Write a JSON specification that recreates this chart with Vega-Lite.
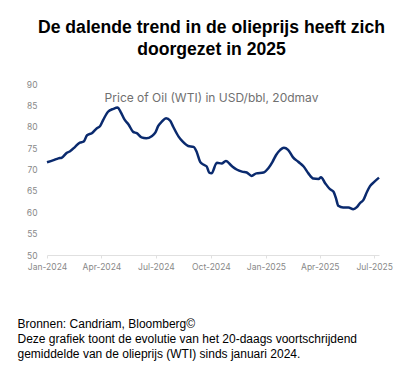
{
  "$schema": "https://vega.github.io/schema/vega-lite/v6.json",
  "width": 332,
  "height": 171,
  "autosize": {"type": "none"},
  "padding": {"left": 47, "top": 84, "right": 35, "bottom": 124},
  "background": "white",
  "config": {"view": {"stroke": null}},
  "title": {
    "text": ["De dalende trend in de olieprijs heeft zich", "doorgezet in 2025"],
    "subtitle": "Price of Oil (WTI) in USD/bbl, 20dmav",
    "font": "Liberation Sans",
    "fontSize": 17.6,
    "fontWeight": "bold",
    "color": "#000000",
    "lineHeight": 22,
    "anchor": "middle",
    "dx": -1.5,
    "subtitleFont": "Inter",
    "subtitleFontSize": 12,
    "subtitleColor": "#707070",
    "subtitlePadding": 34,
    "offset": -24
  },
  "data": {
    "values": [
      {"date": "2024-01-01", "price": 71.7},
      {"date": "2024-01-12", "price": 72.2},
      {"date": "2024-01-20", "price": 72.6},
      {"date": "2024-01-26", "price": 72.8},
      {"date": "2024-02-03", "price": 73.9},
      {"date": "2024-02-08", "price": 74.2},
      {"date": "2024-02-17", "price": 75.3},
      {"date": "2024-02-25", "price": 76.3},
      {"date": "2024-03-02", "price": 76.5},
      {"date": "2024-03-08", "price": 78.0},
      {"date": "2024-03-16", "price": 78.5},
      {"date": "2024-03-24", "price": 79.6},
      {"date": "2024-03-30", "price": 80.2},
      {"date": "2024-04-04", "price": 81.6},
      {"date": "2024-04-12", "price": 83.5},
      {"date": "2024-04-21", "price": 84.2},
      {"date": "2024-04-28", "price": 84.5},
      {"date": "2024-05-03", "price": 83.5},
      {"date": "2024-05-10", "price": 81.6},
      {"date": "2024-05-16", "price": 80.6},
      {"date": "2024-05-24", "price": 78.8},
      {"date": "2024-05-30", "price": 78.5},
      {"date": "2024-06-07", "price": 77.5},
      {"date": "2024-06-15", "price": 77.3},
      {"date": "2024-06-24", "price": 77.8},
      {"date": "2024-06-30", "price": 78.6},
      {"date": "2024-07-05", "price": 80.2},
      {"date": "2024-07-11", "price": 81.2},
      {"date": "2024-07-18", "price": 82.0},
      {"date": "2024-07-25", "price": 81.4},
      {"date": "2024-07-30", "price": 80.0},
      {"date": "2024-08-08", "price": 77.7},
      {"date": "2024-08-15", "price": 76.5},
      {"date": "2024-08-24", "price": 75.5},
      {"date": "2024-09-02", "price": 75.3},
      {"date": "2024-09-07", "price": 74.2},
      {"date": "2024-09-13", "price": 71.8},
      {"date": "2024-09-19", "price": 71.1},
      {"date": "2024-09-24", "price": 70.7},
      {"date": "2024-09-28", "price": 69.3},
      {"date": "2024-10-02", "price": 69.1},
      {"date": "2024-10-11", "price": 71.6},
      {"date": "2024-10-19", "price": 71.4},
      {"date": "2024-10-26", "price": 72.0},
      {"date": "2024-11-05", "price": 70.8},
      {"date": "2024-11-13", "price": 70.0},
      {"date": "2024-11-22", "price": 69.5},
      {"date": "2024-11-30", "price": 69.3},
      {"date": "2024-12-08", "price": 68.5},
      {"date": "2024-12-16", "price": 69.1},
      {"date": "2024-12-28", "price": 69.3},
      {"date": "2025-01-05", "price": 70.3},
      {"date": "2025-01-12", "price": 71.8},
      {"date": "2025-01-18", "price": 73.4},
      {"date": "2025-01-25", "price": 74.6},
      {"date": "2025-01-31", "price": 75.1},
      {"date": "2025-02-07", "price": 74.6},
      {"date": "2025-02-15", "price": 72.9},
      {"date": "2025-02-24", "price": 71.8},
      {"date": "2025-03-05", "price": 70.7},
      {"date": "2025-03-13", "price": 69.1},
      {"date": "2025-03-21", "price": 67.9},
      {"date": "2025-03-30", "price": 67.8},
      {"date": "2025-04-03", "price": 68.2},
      {"date": "2025-04-10", "price": 66.8},
      {"date": "2025-04-18", "price": 65.4},
      {"date": "2025-04-24", "price": 64.8},
      {"date": "2025-04-28", "price": 63.3},
      {"date": "2025-05-02", "price": 61.5},
      {"date": "2025-05-10", "price": 61.1},
      {"date": "2025-05-19", "price": 61.1},
      {"date": "2025-05-27", "price": 60.7},
      {"date": "2025-06-02", "price": 61.2},
      {"date": "2025-06-07", "price": 62.1},
      {"date": "2025-06-13", "price": 62.9},
      {"date": "2025-06-19", "price": 64.8},
      {"date": "2025-06-24", "price": 66.1},
      {"date": "2025-07-01", "price": 67.1},
      {"date": "2025-07-09", "price": 68.1}
    ]
  },
  "mark": {"type": "line", "color": "#0a2a6e", "strokeWidth": 2.5, "interpolate": "monotone"},
  "encoding": {
    "x": {
      "field": "date",
      "type": "temporal",
      "scale": {"domain": ["2024-01-01T00:00:00", "2025-07-09T00:00:00"]},
      "axis": {
        "format": "%b-%Y",
        "tickCount": {"interval": "month", "step": 3},
        "labelOverlap": false,
        "labelFlush": false,
        "grid": false,
        "domainColor": "#e0e0e0",
        "tickColor": "#e0e0e0",
        "tickSize": 3,
        "labelFont": "Inter",
        "labelFontSize": 8.5,
        "labelColor": "#888888",
        "labelPadding": 4,
        "title": [
          "Bronnen: Candriam, Bloomberg©",
          "Deze grafiek toont de evolutie van het 20-daags voortschrijdend",
          "gemiddelde van de olieprijs (WTI) sinds januari 2024."
        ],
        "titleFont": "Liberation Sans",
        "titleFontSize": 12,
        "titleFontWeight": "normal",
        "titleColor": "#000000",
        "titleAnchor": "start",
        "titleAlign": "left",
        "titleBaseline": "alphabetic",
        "titleLineHeight": 15,
        "titleX": -30,
        "titleY": 72
      }
    },
    "y": {
      "field": "price",
      "type": "quantitative",
      "scale": {"domain": [50, 90], "nice": false, "zero": false},
      "axis": {
        "values": [50, 55, 60, 65, 70, 75, 80, 85, 90],
        "grid": false,
        "domain": false,
        "ticks": false,
        "labelFont": "Inter",
        "labelFontSize": 8.5,
        "labelColor": "#888888",
        "labelPadding": 10,
        "title": null
      }
    }
  }
}
